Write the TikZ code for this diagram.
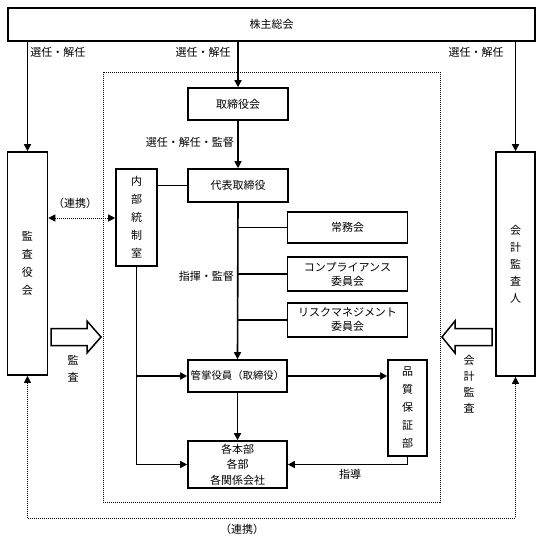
\documentclass[tikz,border=0pt]{standalone}
\usepackage{fontspec}
\setmainfont{Noto Sans CJK JP}
\usetikzlibrary{arrows.meta}
\begin{document}
\begin{tikzpicture}[x=1pt,y=-1pt,
 box/.style={draw, line width=1.6pt, inner sep=0pt, align=center, font=\fontsize{11}{14}\selectfont},
 vbox/.style={box, font=\fontsize{11}{18}\selectfont},
 conn/.style={line width=1.6pt},
 arr/.style={conn, -{Triangle[length=7pt,width=7pt]}},
 dotline/.style={line width=1pt, dash pattern=on 1pt off 1pt},
 dotarr/.style={dotline, {Triangle[length=7pt,width=7pt]}-{Triangle[length=7pt,width=7pt]}},
 blockarr/.style={draw, line width=1.5pt, fill=white, line join=miter},
 lbl/.style={font=\fontsize{11}{14}\selectfont, inner sep=0pt, align=center}]
\useasboundingbox[fill=white] (0,0) rectangle (542,541);

% inner dotted frame
\draw[dotline] (103,72) rectangle (440,502);

% boxes
\node[box, minimum width=527pt, minimum height=33pt] (gm) at (271.5,24.5) {株主総会};
\node[vbox, minimum width=40pt, minimum height=223pt] (kansa) at (27.5,263.5) {監\\査\\役\\会};
\node[box, minimum width=39pt, minimum height=224pt, font=\fontsize{11}{17}\selectfont] (kaikei) at (515.5,264) {会\\計\\監\\査\\人};
\node[box, minimum width=100pt, minimum height=32pt] (tori) at (238,104) {取締役会};
\node[box, minimum width=100pt, minimum height=33pt] (daihyo) at (238,185.5) {代表取締役};
\node[vbox, minimum width=41pt, minimum height=97pt] (naibu) at (136.5,217.5) {内\\部\\統\\制\\室};
\node[box, minimum width=120pt, minimum height=31pt] (jomu) at (347.5,227.5) {常務会};
\node[box, minimum width=120pt, minimum height=34pt] (comp) at (347.5,274) {コンプライアンス\\委員会};
\node[box, minimum width=120pt, minimum height=34pt] (risk) at (347.5,320) {リスクマネジメント\\委員会};
\node[box, minimum width=99pt, minimum height=32pt, font=\fontsize{10.4}{14}\selectfont] (kansho) at (237.5,376) {管掌役員（取締役）};
\node[vbox, minimum width=39pt, minimum height=96pt] (hin) at (407.5,408) {品\\質\\保\\証\\部};
\node[box, minimum width=99pt, minimum height=47pt, font=\fontsize{11}{15.5}\selectfont] (kaku) at (237.5,464.5) {各本部\\各部\\各関係会社};

% helper coordinates
\coordinate (lk) at (0,218);
\coordinate (bot) at (0,518);
\coordinate (shido) at (0,464.5);

% connectors
\draw[arr] (kansa.north |- gm.south) -- (kansa.north);
\draw[arr] (tori.north |- gm.south) -- (tori.north);
\draw[arr] (kaikei.north |- gm.south) -- (kaikei.north);
\draw[arr] (tori.south) -- (daihyo.north);
\draw[conn] (naibu.east |- daihyo.west) -- (daihyo.west);
\draw[arr] (daihyo.south) -- (kansho.north);
\draw[conn] (daihyo.south |- jomu.west) -- (jomu.west);
\draw[conn] (daihyo.south |- comp.west) -- (comp.west);
\draw[conn] (daihyo.south |- risk.west) -- (risk.west);
\draw[arr] (kansho.east) -- (hin.west |- kansho.east);
\draw[conn] (naibu.south) -- (naibu.south |- shido);
\draw[arr] (naibu.south |- shido) -- (kaku.west |- shido);
\draw[arr] (naibu.south |- kansho.west) -- (kansho.west);
\draw[arr] (kansho.south) -- (kaku.north);
\draw[arr] (hin.south) -- (hin.south |- shido) -- (kaku.east |- shido);

% dotted cooperation lines
\draw[dotarr] (kansa.east |- lk) -- (naibu.west |- lk);
\draw[dotarr] (kansa.south) -- (kansa.south |- bot) -- (kaikei.south |- bot) -- (kaikei.south);

% block arrows
\draw[blockarr] (51,328.5) -- (87,328.5) -- (87,321) -- (101,337) -- (87,353) -- (87,345.5) -- (51,345.5) -- cycle;
\draw[blockarr] (492,328.5) -- (455,328.5) -- (455,321) -- (442,337) -- (455,353) -- (455,345.5) -- (492,345.5) -- cycle;

% labels
\node[lbl] (l1) at (58,52) {選任・解任};
\node[lbl] (l2) at (203,52) {選任・解任};
\node[lbl] (l3) at (476,52) {選任・解任};
\node[lbl, anchor=east] (l4) at (234,142) {選任・解任・監督};
\node[lbl, anchor=east] (l5) at (234,276) {指揮・監督};
\node[lbl] (l6) at (75,203) {（連携）};
\node[lbl, font=\fontsize{11}{17}\selectfont] (l7) at (73,368.5) {監\\査};
\node[lbl, font=\fontsize{11}{16}\selectfont] (l8) at (469,384.5) {会\\計\\監\\査};
\node[lbl] (l9) at (350,474) {指導};
\node[lbl] (l10) at (242,529) {（連携）};
\end{tikzpicture}
\end{document}
